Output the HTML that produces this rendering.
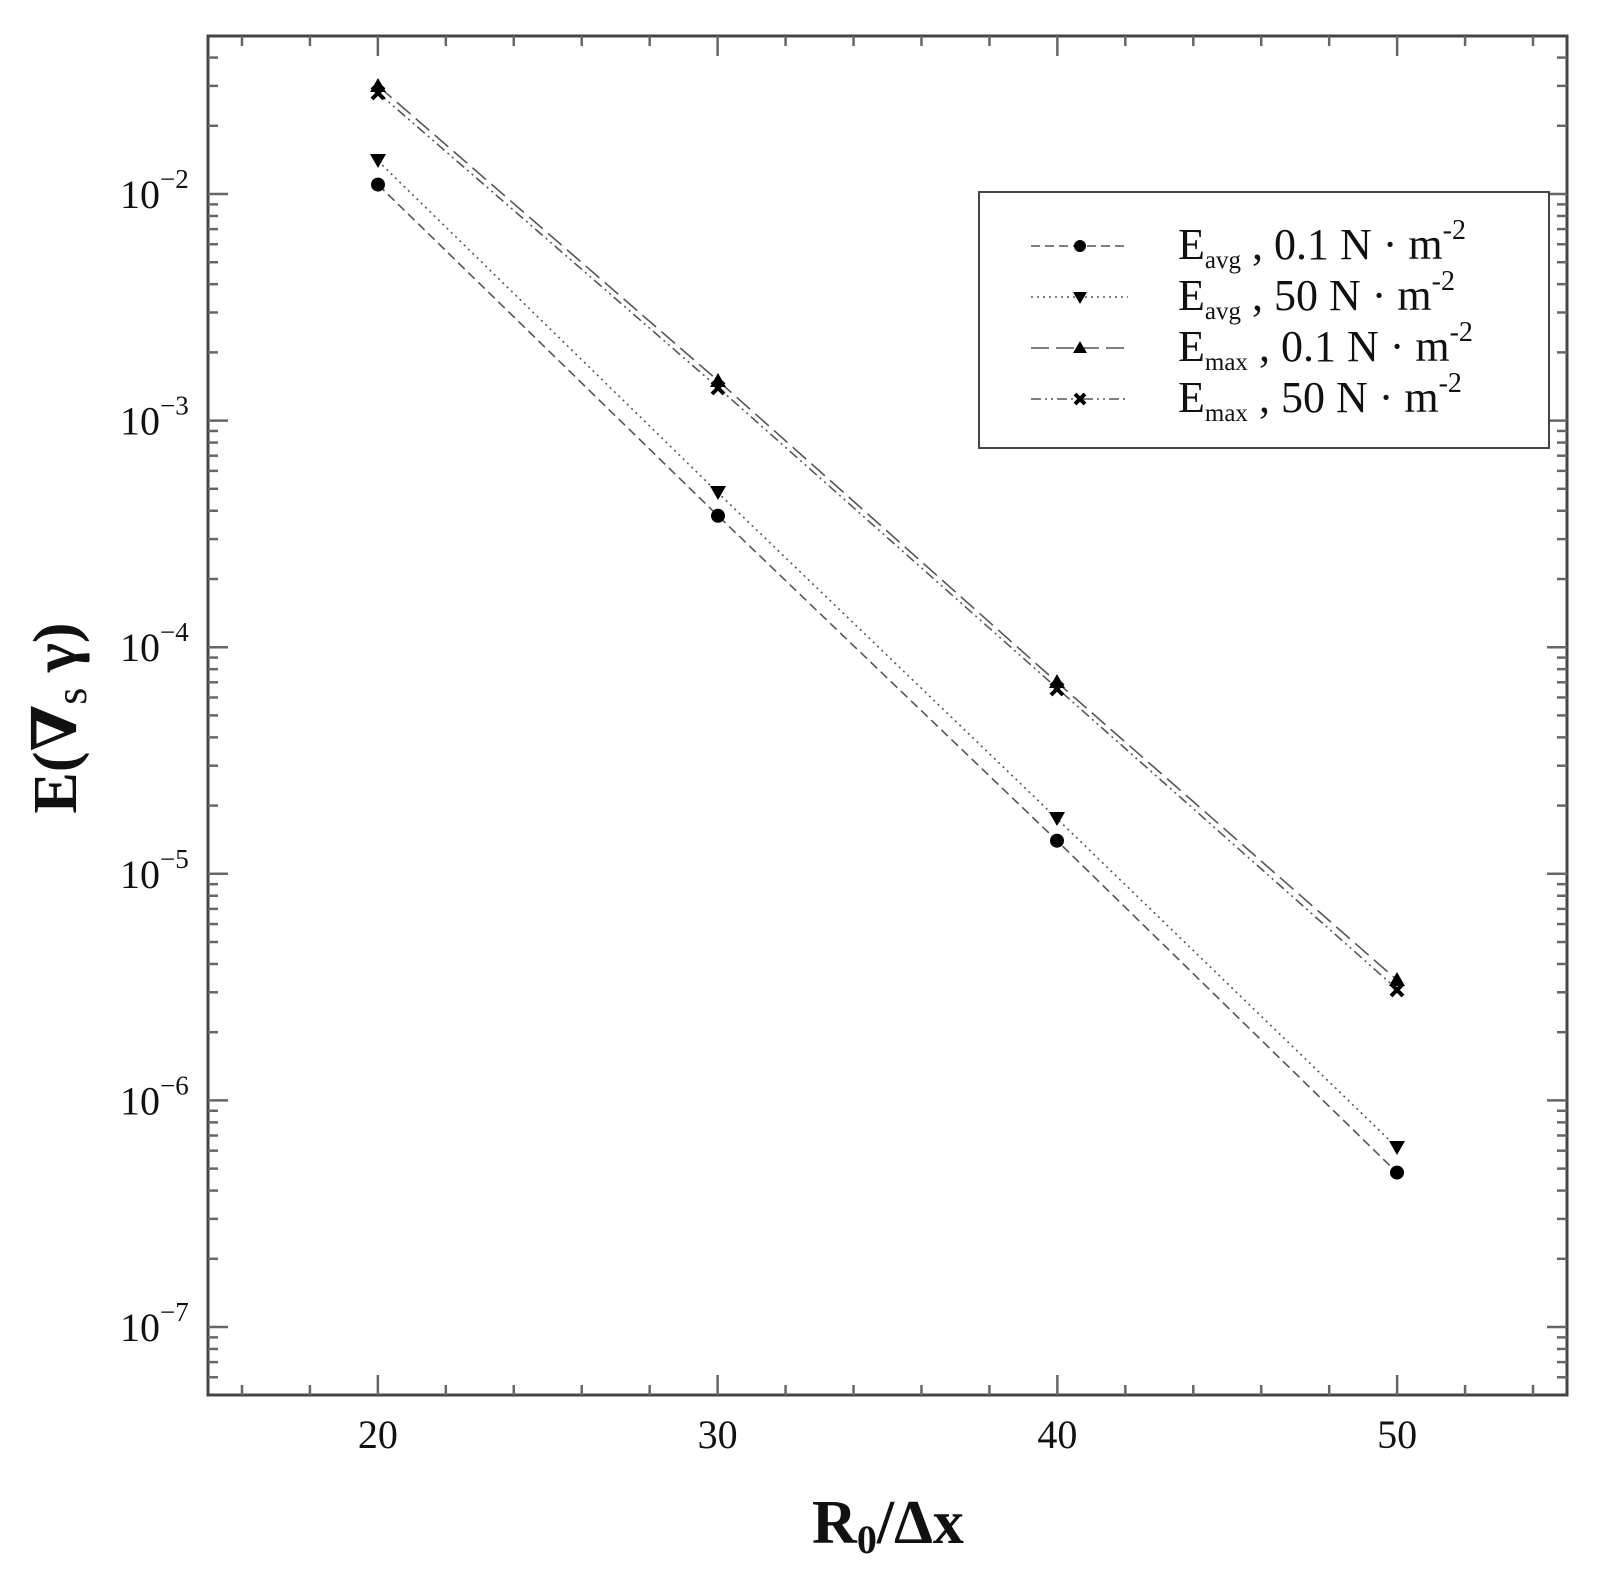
<!DOCTYPE html>
<html><head><meta charset="utf-8"><style>
html,body{margin:0;padding:0;background:#fff;}
svg{display:block;font-family:"Liberation Serif","DejaVu Serif",serif;}
</style></head><body>
<svg id="s" width="1603" height="1587" viewBox="0 0 1603 1587" xmlns="http://www.w3.org/2000/svg">
<rect x="208" y="36" width="1359" height="1359" fill="none" stroke="#444" stroke-width="3"/>
<g id="ticks" stroke="#666" stroke-width="2.5"></g>
<g id="labels" font-size="40" fill="#111"></g>
<g fill="none" stroke="#555" stroke-width="1.6">
<polyline points="378,184.6 718,515.8 1057,840.7 1397,1172.6" stroke-dasharray="9,5"/>
<polyline points="378,160.9 718,492.8 1057,818.7 1397,1147.5" stroke-dasharray="2,4"/>
<polyline points="378,85.9 718,380.7 1057,682.3 1397,980" stroke-dasharray="18,7"/>
<polyline points="378,92.7 718,387.5 1057,688.1 1397,989.1" stroke-dasharray="10,4,2,4,2,4"/>
</g>
<g fill="#000">
<circle cx="378" cy="184.6" r="7"/><circle cx="718" cy="515.8" r="7"/><circle cx="1057" cy="840.7" r="7"/><circle cx="1397" cy="1172.6" r="7"/>
<path d="M370,154 h16 l-8,14z M710,486 h16 l-8,14z M1049,812 h16 l-8,14z M1389,1141 h16 l-8,14z"/>
<path d="M370,92 h16 l-8,-14z M710,387 h16 l-8,-14z M1049,688 h16 l-8,-14z M1389,986 h16 l-8,-14z"/>
</g>
<g stroke="#000" stroke-width="4">
<path d="M372,87 l12,12 M384,87 l-12,12 M712,382 l12,12 M724,382 l-12,12 M1051,683 l12,12 M1063,683 l-12,12 M1391,984 l12,12 M1403,984 l-12,12"/>
</g>
<!-- legend -->
<rect x="979" y="192" width="570" height="256" fill="#fff" stroke="#444" stroke-width="2"/>
<g stroke="#555" stroke-width="1.6">
<line x1="1031" y1="246" x2="1128" y2="246" stroke-dasharray="9,5"/>
<line x1="1031" y1="297" x2="1128" y2="297" stroke-dasharray="2,4"/>
<line x1="1031" y1="348" x2="1128" y2="348" stroke-dasharray="18,7"/>
<line x1="1031" y1="399" x2="1128" y2="399" stroke-dasharray="10,4,2,4,2,4"/>
</g>
<circle cx="1080" cy="246" r="6" fill="#000"/>
<path d="M1073,292 h14 l-7,12z M1073,353 h14 l-7,-12z" fill="#000"/>
<path d="M1075,394 l10,10 M1085,394 l-10,10" stroke="#000" stroke-width="4"/>
<g font-size="44" fill="#111" xml:space="preserve">
<text x="1178" y="259">E<tspan font-size="25" dy="9">avg</tspan><tspan dy="-9"> , 0.1 N  ·  m</tspan><tspan font-size="28" dy="-20">-2</tspan></text>
<text x="1178" y="310">E<tspan font-size="25" dy="9">avg</tspan><tspan dy="-9"> , 50 N  ·  m</tspan><tspan font-size="28" dy="-20">-2</tspan></text>
<text x="1178" y="361">E<tspan font-size="25" dy="9">max</tspan><tspan dy="-9"> , 0.1 N  ·  m</tspan><tspan font-size="28" dy="-20">-2</tspan></text>
<text x="1178" y="412">E<tspan font-size="25" dy="9">max</tspan><tspan dy="-9"> , 50 N  ·  m</tspan><tspan font-size="28" dy="-20">-2</tspan></text>
</g>
<text x="888" y="1543" font-size="62" font-weight="bold" text-anchor="middle" fill="#111">R<tspan font-size="40" dy="10">0</tspan><tspan dy="-10">/Δx</tspan></text>
<text transform="translate(76,718) rotate(-90)" font-size="62" font-weight="bold" text-anchor="middle" fill="#111">E(∇<tspan font-size="44" dy="10" font-weight="normal">s</tspan><tspan dy="-10"> γ)</tspan></text>
</svg>
<script>
var NS="http://www.w3.org/2000/svg",t=document.getElementById("ticks"),L=document.getElementById("labels");
function ln(x1,y1,x2,y2){var e=document.createElementNS(NS,"line");e.setAttribute("x1",x1);e.setAttribute("y1",y1);e.setAttribute("x2",x2);e.setAttribute("y2",y2);t.appendChild(e);}
function X(v){return 208+(v-15)*33.975;}
function Y(lv){return 194-226.6*(lv+2);}
for(var v=16;v<=54;v+=2){var x=X(v),maj=(v%10==0),len=maj?20:10;ln(x,1395,x,1395-len);ln(x,36,x,36+len);
 if(maj){var tx=document.createElementNS(NS,"text");tx.setAttribute("x",x);tx.setAttribute("y",1448);tx.setAttribute("text-anchor","middle");tx.textContent=v;L.appendChild(tx);}}
for(var d=-8;d<=-2;d++){for(var k=1;k<10;k++){var y=Y(d+Math.log10(k));if(y<37||y>1394)continue;var len=k==1?20:10;ln(208,y,208+len,y);ln(1567,y,1567-len,y);
 if(k==1){var tx=document.createElementNS(NS,"text");tx.setAttribute("x",120);tx.setAttribute("y",y+14);tx.innerHTML='10<tspan font-size="27" dy="-20">−'+(-d)+'</tspan>';L.appendChild(tx);}}}
</script>
</body></html>
